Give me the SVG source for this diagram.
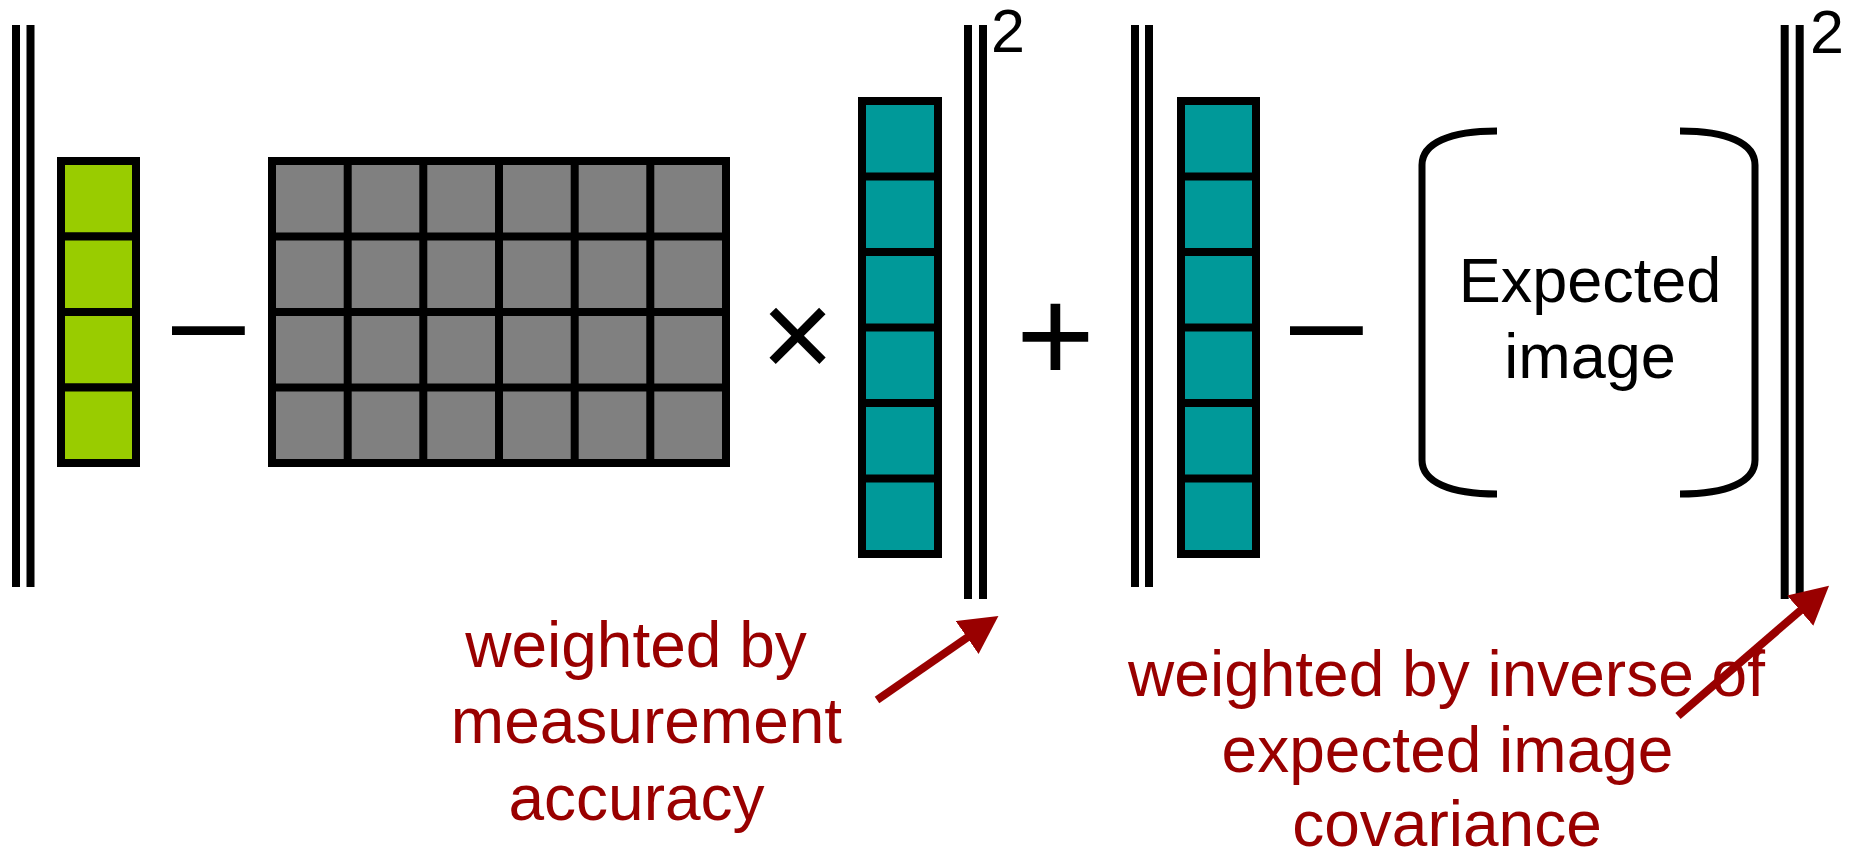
<svg xmlns="http://www.w3.org/2000/svg" width="1862" height="852" viewBox="0 0 1862 852">
  <style>
    .bar { stroke: #000; stroke-width: 8; fill: none; }
    .cellg { fill: #99CC00; stroke: #000; stroke-width: 8; }
    .cellt { fill: #009999; stroke: #000; stroke-width: 8; }
    .cellm { fill: #808080; stroke: #000; stroke-width: 8; }
    .op { font-family: "Liberation Sans", Arial, sans-serif; fill: #000; text-anchor: middle; }
    .sup { font-family: "Liberation Sans", Arial, sans-serif; font-size: 61px; fill: #000; }
    .lbl { font-family: "Liberation Sans", Arial, sans-serif; font-size: 63px; fill: #000; text-anchor: middle; }
    .note { font-family: "Liberation Sans", Arial, sans-serif; font-size: 64px; fill: #990000; text-anchor: middle; }
    .brk { fill: none; stroke: #000; stroke-width: 7; }
    .arrow { stroke: #990000; stroke-width: 8; fill: none; marker-end: url(#head); }
  </style>
  <defs>
    <marker id="head" markerUnits="userSpaceOnUse" viewBox="0 0 38 40" markerWidth="38" markerHeight="40" refX="1" refY="20" orient="auto">
      <path d="M0,0 L38,20 L0,40 Z" fill="#990000"/>
    </marker>
  </defs>
  <rect width="1862" height="852" fill="#fff"/>

  <g id="norm1-left">
    <line class="bar" x1="16" y1="25" x2="16" y2="587"/>
    <line class="bar" x1="30.5" y1="25" x2="30.5" y2="587"/>
  </g>

  <g id="measurement-vector">
    <rect class="cellg" x="61" y="161" width="75" height="75.5"/>
    <rect class="cellg" x="61" y="236.5" width="75" height="75.5"/>
    <rect class="cellg" x="61" y="312" width="75" height="75.5"/>
    <rect class="cellg" x="61" y="387.5" width="75" height="75.5"/>
  </g>

  <g id="op-minus1"><text class="op" x="208.5" y="364" font-size="131">–</text></g>

  <g id="system-matrix">
    <rect class="cellm" x="272" y="161" width="454" height="302"/>
    <path class="bar" d="M347.7,161V463M423.3,161V463M499,161V463M574.7,161V463M650.3,161V463M272,236.5H726M272,312H726M272,387.5H726"/>
  </g>

  <g id="op-times"><text class="op" x="797.5" y="378" font-size="126">×</text></g>

  <g id="image-vector1">
    <rect class="cellt" x="862" y="101" width="76" height="453"/>
    <path class="bar" d="M862,176.5H938M862,252H938M862,327.5H938M862,403H938M862,478.5H938"/>
  </g>

  <g id="norm1-right">
    <line class="bar" x1="968" y1="25" x2="968" y2="599"/>
    <line class="bar" x1="983" y1="25" x2="983" y2="599"/>
    <text class="sup" x="991" y="52">2</text>
  </g>

  <g id="op-plus"><text class="op" x="1055.5" y="382" font-size="135">+</text></g>

  <g id="norm2-left">
    <line class="bar" x1="1135" y1="25" x2="1135" y2="587"/>
    <line class="bar" x1="1149" y1="25" x2="1149" y2="587"/>
  </g>

  <g id="image-vector2">
    <rect class="cellt" x="1181" y="101" width="75" height="453"/>
    <path class="bar" d="M1181,176.5H1256M1181,252H1256M1181,327.5H1256M1181,403H1256M1181,478.5H1256"/>
  </g>

  <g id="op-minus2"><text class="op" x="1326.5" y="364" font-size="131">–</text></g>

  <g id="expected-image">
    <path class="brk" d="M1497,131 C1450,131 1422,143 1422,165 L1422,460 C1422,482 1450,494 1497,494"/>
    <path class="brk" d="M1680,131 C1727,131 1755,143 1755,165 L1755,460 C1755,482 1727,494 1680,494"/>
    <text class="lbl" x="1590" y="302">Expected</text>
    <text class="lbl" x="1590" y="378">image</text>
  </g>

  <g id="norm2-right">
    <line class="bar" x1="1784.7" y1="25" x2="1784.7" y2="599"/>
    <line class="bar" x1="1799.7" y1="25" x2="1799.7" y2="599"/>
    <text class="sup" x="1810" y="53">2</text>
  </g>

  <g id="note-measurement">
    <text class="note" x="636" y="667">weighted by</text>
    <text class="note" x="646.5" y="743">measurement</text>
    <text class="note" x="636.5" y="820">accuracy</text>
  </g>

  <g id="note-covariance">
    <text class="note" x="1446.5" y="696">weighted by inverse of</text>
    <text class="note" x="1447.5" y="772">expected image</text>
    <text class="note" x="1447" y="846">covariance</text>
  </g>

  <g id="connectors">
    <line class="arrow" x1="877" y1="700" x2="968" y2="637"/>
    <line class="arrow" x1="1678" y1="716" x2="1801" y2="610"/>
  </g>
</svg>
